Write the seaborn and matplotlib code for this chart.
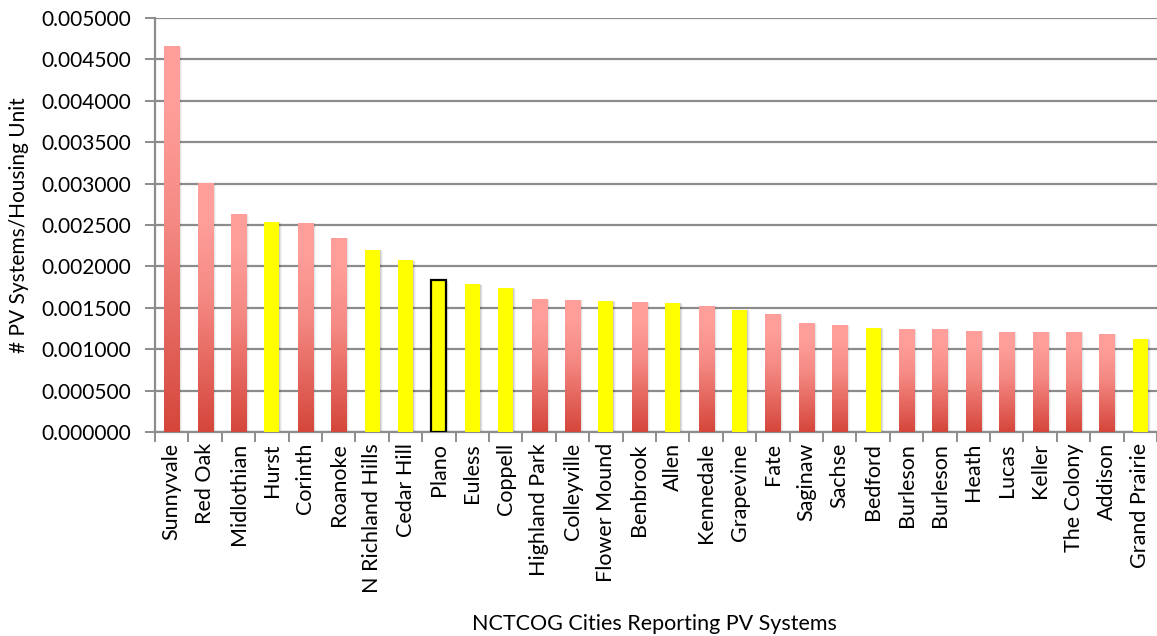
import numpy as np
import matplotlib
matplotlib.use("Agg")
import matplotlib.pyplot as plt
import seaborn as sns
from matplotlib.colors import LinearSegmentedColormap
from matplotlib.ticker import FixedLocator

cities = ["Sunnyvale", "Red Oak", "Midlothian", "Hurst", "Corinth", "Roanoke",
          "N Richland Hills", "Cedar Hill", "Plano", "Euless", "Coppell",
          "Highland Park", "Colleyville", "Flower Mound", "Benbrook", "Allen",
          "Kennedale", "Grapevine", "Fate", "Saginaw", "Sachse", "Bedford",
          "Burleson", "Burleson", "Heath", "Lucas", "Keller", "The Colony",
          "Addison", "Grand Prairie"]
values = [0.004665, 0.003005, 0.002636, 0.002540, 0.002528, 0.002347,
          0.002202, 0.002081, 0.001831, 0.001791, 0.001743,
          0.001610, 0.001598, 0.001586, 0.001574, 0.001562,
          0.001526, 0.001478, 0.001429, 0.001320, 0.001296, 0.001261,
          0.001248, 0.001248, 0.001224, 0.001212, 0.001212, 0.001212,
          0.001188, 0.001128]
highlighted = ["Hurst", "N Richland Hills", "Cedar Hill", "Plano", "Euless",
               "Coppell", "Flower Mound", "Allen", "Grapevine", "Bedford",
               "Grand Prairie"]
outlined = ["Plano"]
yticks = [0.0, 0.0005, 0.001, 0.0015, 0.002, 0.0025, 0.003, 0.0035, 0.004, 0.0045, 0.005]

YELLOW = "#FFFF00"
RED_TOP = "#FF9E9A"
RED_BOT = "#D5463B"
GRID = "#8C8C8C"

sns.set_theme(style="white")
plt.rcParams['font.family'] = ['Lato', 'DejaVu Sans']

fig = plt.figure(figsize=(11.57, 6.36), dpi=100)
ax = fig.add_axes([0.134, 0.3208, 0.866, 0.6509])

idx = np.arange(len(cities))
colors = [YELLOW if c in highlighted else RED_TOP for c in cities]
sns.barplot(x=idx, y=values, hue=idx, palette=colors, legend=False,
            width=0.45, ax=ax, zorder=3, linewidth=0, saturation=1)

cmap = LinearSegmentedColormap.from_list(
    "redgrad", [(0.0, RED_BOT), (0.55, "#F58A84"), (0.85, RED_TOP), (1.0, RED_TOP)])
grad = np.linspace(0, 1, 256).reshape(-1, 1)

for i, (p, city) in enumerate(zip(ax.patches, cities)):
    x0, w, h = p.get_x(), p.get_width(), p.get_height()
    # soft shadow
    for k, a in enumerate([0.10, 0.07, 0.04]):
        off = 0.03 * (k + 1)
        ax.add_patch(plt.Rectangle((x0 + off, 0), w, h - 0.000005 * (k + 1),
                                   facecolor="black", alpha=a, linewidth=0, zorder=2))
    if city in highlighted:
        if city in outlined:
            p.set_edgecolor("black")
            p.set_linewidth(1.6)
        continue
    im = ax.imshow(grad, cmap=cmap, origin="lower", aspect="auto",
                   extent=(x0, x0 + w, 0, h), zorder=3.5, interpolation="bicubic")
    im.set_clip_path(p)

ax.set_xlim(-0.5, len(cities) - 0.5)
ax.set_ylim(0, 0.005)
ax.set_yticks(yticks)
ax.set_yticklabels([f"{v:.6f}" for v in yticks])
ax.set_xticks(idx)
ax.set_xticklabels(cities, rotation=90)
ax.xaxis.set_minor_locator(FixedLocator(np.arange(-0.5, len(cities), 1.0)))

ax.grid(axis="y", color=GRID, linewidth=1.6, zorder=0)
ax.set_axisbelow(True)
for s in ["top", "right"]:
    ax.spines[s].set_visible(False)
for s in ["left", "bottom"]:
    ax.spines[s].set_color(GRID)
    ax.spines[s].set_linewidth(1.6)

ax.tick_params(axis="y", which="major", left=True, length=7, width=1.4, color=GRID,
               labelsize=15, pad=10, labelcolor="black")
ax.tick_params(axis="x", which="major", bottom=False, length=0, labelsize=15.5, pad=8,
               labelcolor="black")
ax.tick_params(axis="x", which="minor", bottom=True, length=7, width=1.4, color=GRID)

ax.set_ylabel("# PV Systems/Housing Unit", fontsize=15, color="black")
ax.yaxis.set_label_coords(-0.126, 0.5)
ax.set_xlabel("NCTCOG Cities Reporting PV Systems", fontsize=15.5, color="black")
ax.xaxis.set_label_coords(0.498, -0.44)

fig.savefig("out.png", dpi=100)
